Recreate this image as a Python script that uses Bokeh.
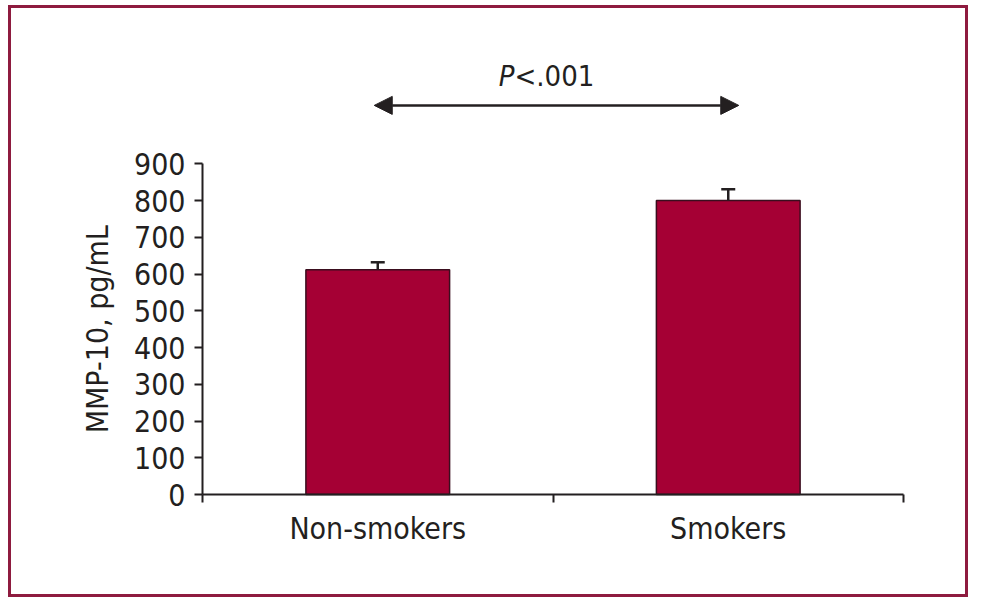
import math
from bokeh.plotting import figure
from bokeh.models import (ColumnDataSource, FixedTicker, Whisker, TeeHead, Arrow,
                          NormalHead, Label, Range1d, LinearAxis)
from bokeh.embed import file_html
from bokeh.resources import INLINE

# ---- data ----
groups = ["Non-smokers", "Smokers"]
mmp10_mean = [612, 800]
mmp10_sem = [20, 31]
y_ticks = [0, 100, 200, 300, 400, 500, 600, 700, 800, 900]
y_label = "MMP-10, pg/mL"
p_text_italic = "P"
p_text_rest = "<.001"

# ---- style ----
FONT = "'DejaVu Sans Condensed', 'Roboto Condensed', Roboto"
TXT = "#231F20"
BAR = "#A50034"
BAR_LINE = "#3A0D1E"
FRAME = "#8E1B3F"
BORDER = 3

xs = [i + 0.5 for i in range(len(groups))]
src = ColumnDataSource(dict(
    x=xs, top=mmp10_mean,
    upper=[m + s for m, s in zip(mmp10_mean, mmp10_sem)],
))

# layout: axes drawn at fixed positions inside the frame
W, H = 960, 592
X_PX, Y_PX = 350.5, 0.36744                # pixels per data unit
X0_PX, Y0_PX = 191, 486                    # position of data origin on the canvas
x_range = Range1d(-X0_PX / X_PX, (W - X0_PX) / X_PX)
y_range = Range1d(-(H - Y0_PX) / Y_PX, Y0_PX / Y_PX)

p = figure(width=W, height=H, min_border=0,
           x_range=x_range, y_range=y_range,
           x_axis_location=None, y_axis_location=None,
           output_backend="svg", toolbar_location=None)
p.styles = {"border": f"{BORDER}px solid {FRAME}", "margin-left": "8px", "margin-top": "5px"}
p.outline_line_color = None
p.grid.visible = False
p.background_fill_color = "white"
p.border_fill_color = "white"

p.vbar(x="x", top="top", width=0.41, bottom=0, source=src,
       fill_color=BAR, line_color=BAR_LINE, line_width=1.5)

w = Whisker(source=src, base="x", upper="upper", lower="top",
            upper_head=TeeHead(size=14, line_color=TXT, line_width=2.5),
            lower_head=None, line_color=TXT, line_width=2.5, level="overlay")
p.add_layout(w)

# y axis
ya = LinearAxis(fixed_location=0)
ya.ticker = FixedTicker(ticks=y_ticks)
ya.bounds = (min(y_ticks), max(y_ticks))
ya.major_label_text_font = FONT
ya.major_label_text_font_size = "30px"
ya.major_label_text_color = TXT
ya.major_label_standoff = 9
ya.axis_line_width = 2
ya.axis_line_color = TXT
ya.major_tick_line_width = 2
ya.major_tick_line_color = TXT
ya.major_tick_out = 8
ya.major_tick_in = 0
ya.minor_tick_line_color = None
p.add_layout(ya, "left")

# y axis title, centred on the 0-900 span
p.add_layout(Label(x=-0.30, y=(min(y_ticks) + max(y_ticks)) / 2, text=y_label,
                   angle=math.pi / 2, text_align="center", text_baseline="middle",
                   text_font=FONT, text_font_size="30px", text_color=TXT))

# x axis
xa = LinearAxis(fixed_location=0)
xa.ticker = FixedTicker(ticks=xs, minor_ticks=list(range(len(groups) + 1)))
xa.bounds = (0, len(groups))
xa.major_label_overrides = {x: g for x, g in zip(xs, groups)}
xa.major_label_text_font = FONT
xa.major_label_text_font_size = "30px"
xa.major_label_text_color = TXT
xa.major_label_standoff = 8
xa.major_tick_out = 0
xa.major_tick_in = 0
xa.major_tick_line_color = None
xa.minor_tick_out = 8
xa.minor_tick_in = 0
xa.minor_tick_line_width = 2
xa.minor_tick_line_color = TXT
xa.axis_line_width = 2
xa.axis_line_color = TXT
p.add_layout(xa, "below")

# significance arrow and label
p.add_layout(Arrow(x_start=0.49, x_end=1.53, y_start=1059, y_end=1059,
                   line_color=TXT, line_width=2.5,
                   start=NormalHead(size=18, fill_color=TXT, line_color=TXT),
                   end=NormalHead(size=18, fill_color=TXT, line_color=TXT)))
p.add_layout(Label(x=0.89, y=1092, text=p_text_italic, text_align="right",
                   text_font=FONT, text_font_style="italic",
                   text_font_size="29px", text_color=TXT))
p.add_layout(Label(x=0.89, y=1092, text=p_text_rest, text_align="left",
                   text_font=FONT, text_font_size="29px", text_color=TXT))

open("out.html", "w").write(file_html(p, INLINE))
